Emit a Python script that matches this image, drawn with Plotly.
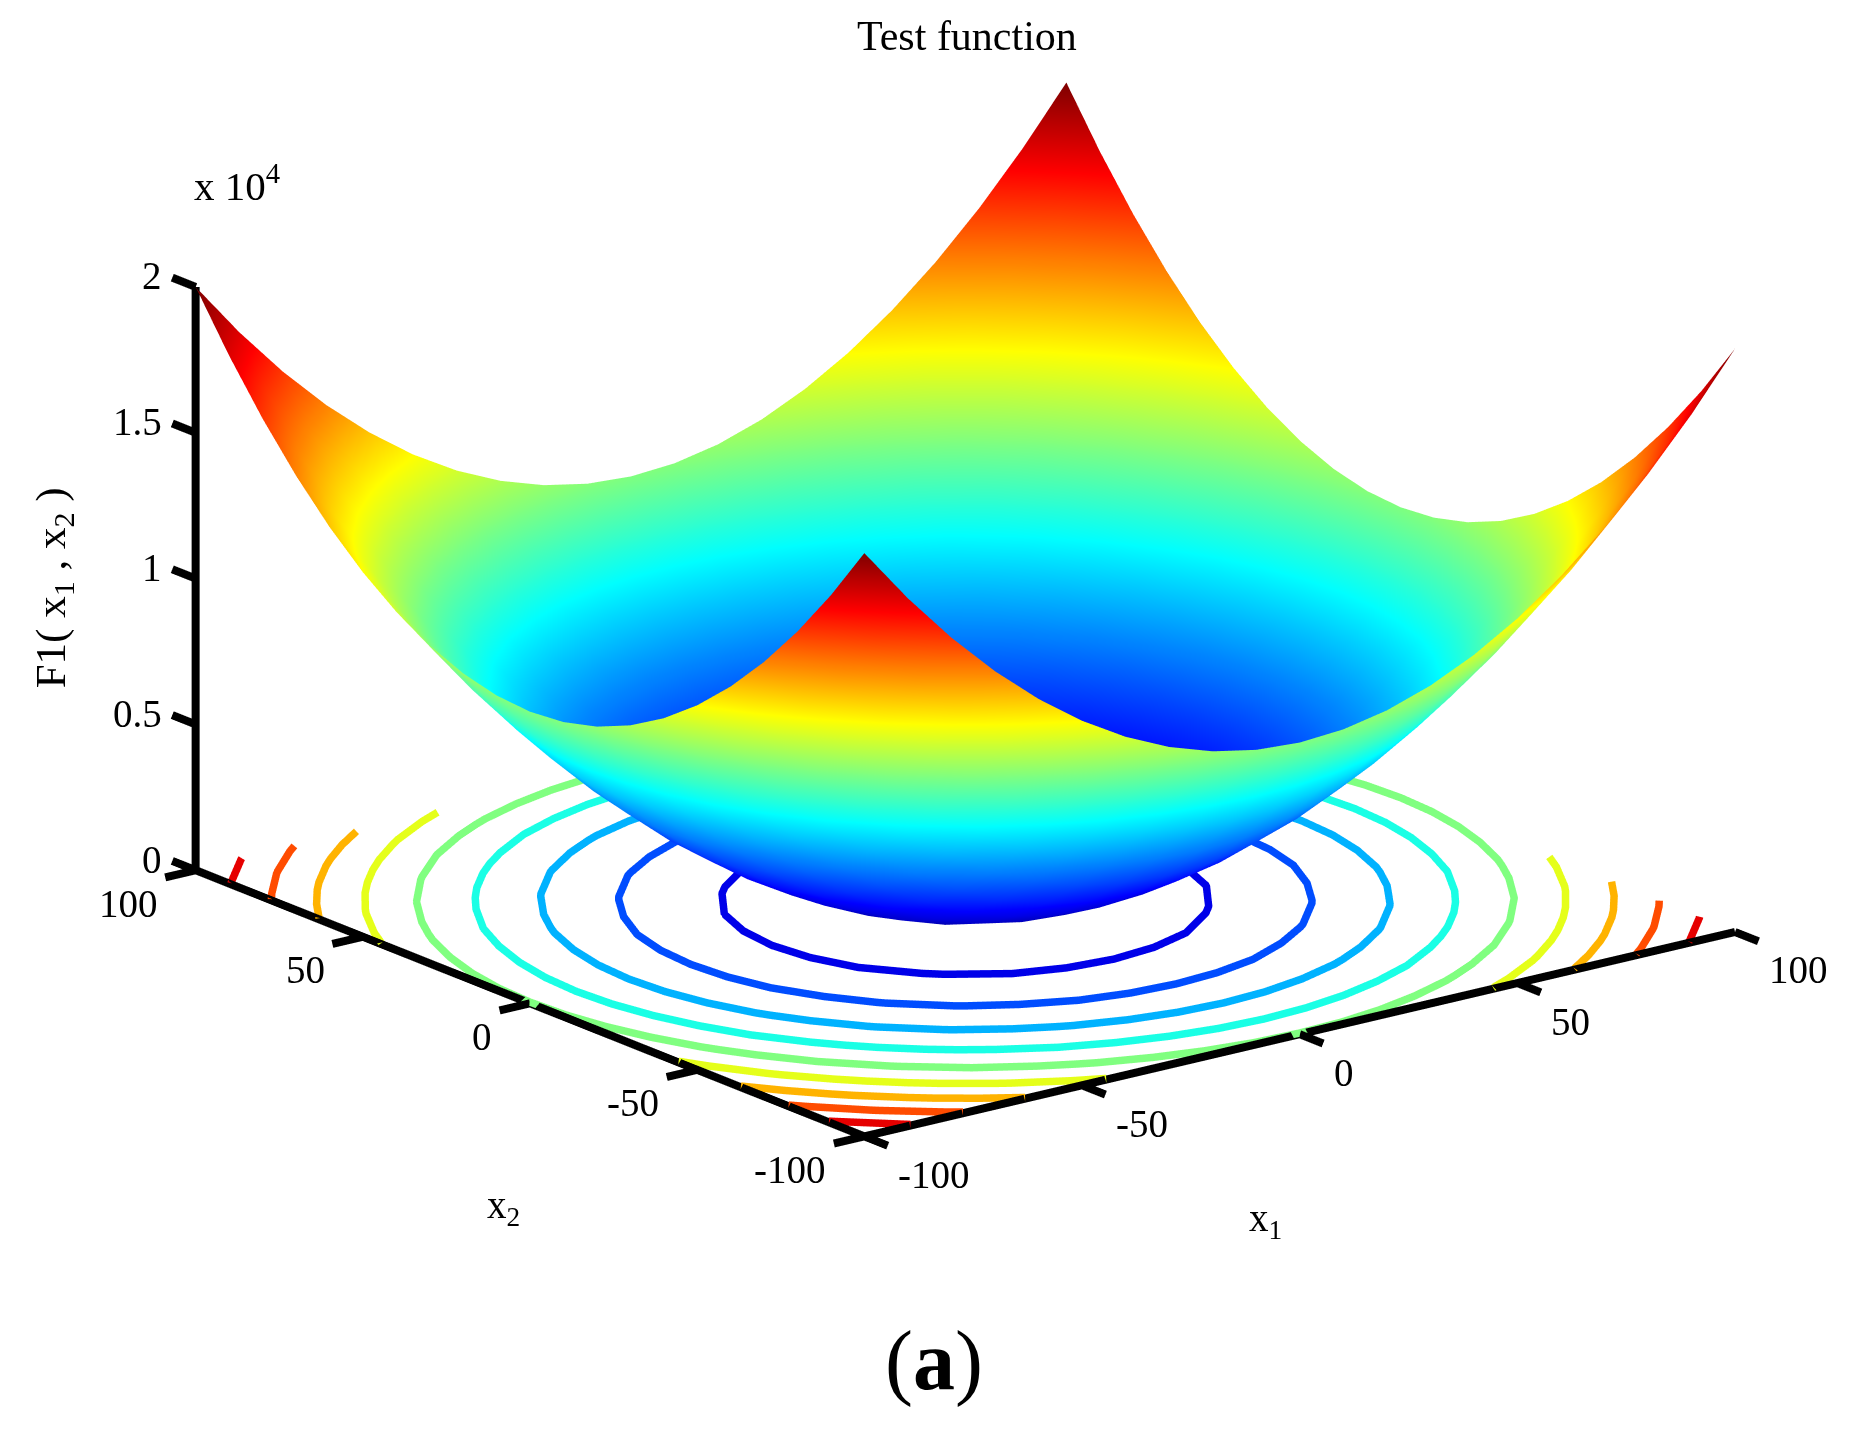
import plotly.graph_objects as go

x1_values = [-100,-90,-80,-70,-60,-50,-40,-30,-20,-10,0,10,20,30,40,50,60,70,80,90,100]
x2_values = [-100,-90,-80,-70,-60,-50,-40,-30,-20,-10,0,10,20,30,40,50,60,70,80,90,100]
f1_values = [
 [20000,18100,16400,14900,13600,12500,11600,10900,10400,10100,10000,10100,10400,10900,11600,12500,13600,14900,16400,18100,20000],
 [18100,16200,14500,13000,11700,10600,9700,9000,8500,8200,8100,8200,8500,9000,9700,10600,11700,13000,14500,16200,18100],
 [16400,14500,12800,11300,10000,8900,8000,7300,6800,6500,6400,6500,6800,7300,8000,8900,10000,11300,12800,14500,16400],
 [14900,13000,11300,9800,8500,7400,6500,5800,5300,5000,4900,5000,5300,5800,6500,7400,8500,9800,11300,13000,14900],
 [13600,11700,10000,8500,7200,6100,5200,4500,4000,3700,3600,3700,4000,4500,5200,6100,7200,8500,10000,11700,13600],
 [12500,10600,8900,7400,6100,5000,4100,3400,2900,2600,2500,2600,2900,3400,4100,5000,6100,7400,8900,10600,12500],
 [11600,9700,8000,6500,5200,4100,3200,2500,2000,1700,1600,1700,2000,2500,3200,4100,5200,6500,8000,9700,11600],
 [10900,9000,7300,5800,4500,3400,2500,1800,1300,1000,900,1000,1300,1800,2500,3400,4500,5800,7300,9000,10900],
 [10400,8500,6800,5300,4000,2900,2000,1300,800,500,400,500,800,1300,2000,2900,4000,5300,6800,8500,10400],
 [10100,8200,6500,5000,3700,2600,1700,1000,500,200,100,200,500,1000,1700,2600,3700,5000,6500,8200,10100],
 [10000,8100,6400,4900,3600,2500,1600,900,400,100,0,100,400,900,1600,2500,3600,4900,6400,8100,10000],
 [10100,8200,6500,5000,3700,2600,1700,1000,500,200,100,200,500,1000,1700,2600,3700,5000,6500,8200,10100],
 [10400,8500,6800,5300,4000,2900,2000,1300,800,500,400,500,800,1300,2000,2900,4000,5300,6800,8500,10400],
 [10900,9000,7300,5800,4500,3400,2500,1800,1300,1000,900,1000,1300,1800,2500,3400,4500,5800,7300,9000,10900],
 [11600,9700,8000,6500,5200,4100,3200,2500,2000,1700,1600,1700,2000,2500,3200,4100,5200,6500,8000,9700,11600],
 [12500,10600,8900,7400,6100,5000,4100,3400,2900,2600,2500,2600,2900,3400,4100,5000,6100,7400,8900,10600,12500],
 [13600,11700,10000,8500,7200,6100,5200,4500,4000,3700,3600,3700,4000,4500,5200,6100,7200,8500,10000,11700,13600],
 [14900,13000,11300,9800,8500,7400,6500,5800,5300,5000,4900,5000,5300,5800,6500,7400,8500,9800,11300,13000,14900],
 [16400,14500,12800,11300,10000,8900,8000,7300,6800,6500,6400,6500,6800,7300,8000,8900,10000,11300,12800,14500,16400],
 [18100,16200,14500,13000,11700,10600,9700,9000,8500,8200,8100,8200,8500,9000,9700,10600,11700,13000,14500,16200,18100],
 [20000,18100,16400,14900,13600,12500,11600,10900,10400,10100,10000,10100,10400,10900,11600,12500,13600,14900,16400,18100,20000],
]
contour_levels = [2000,4000,6000,8000,10000,12000,14000,16000,18000]
xy_ticks = [-100,-50,0,50,100]
xy_tick_labels = ["-100","-50","0","50","100"]
z_ticks = [0,5000,10000,15000,20000]
z_tick_labels = ["0","0.5","1","1.5","2"]
jet_stops = [(0,(0,0,144)),(0.125,(0,0,255)),(0.375,(0,255,255)),(0.625,(255,255,0)),(0.875,(255,0,0)),(1,(128,0,0))]
jet = [[t, "rgb(%d,%d,%d)" % c] for t, c in jet_stops]

FONT = "Liberation Serif"
TICK_SIZE = 39
XMIN, XMAX, ZMIN, ZMAX = -100, 100, 0, 20000
TICK_XY = 7
PAD = 8
SCALE = 1.509
CONTOUR_LIFT = 40


def jet_color(t):
    for (t0, c0), (t1, c1) in zip(jet_stops, jet_stops[1:]):
        if t <= t1:
            f = (t - t0) / (t1 - t0)
            return "rgb(%d,%d,%d)" % tuple(round(a + f * (b - a)) for a, b in zip(c0, c1))
    return jet[-1][1]


def contour_segments(level):
    """Marching squares over f1_values; rows follow x2, columns follow x1."""
    segs = []
    for j in range(len(x2_values) - 1):
        for i in range(len(x1_values) - 1):
            corners = [(i, j), (i + 1, j), (i + 1, j + 1), (i, j + 1)]
            pts = []
            for k in range(4):
                (a, b), (c, d) = corners[k], corners[(k + 1) % 4]
                va, vb = f1_values[b][a], f1_values[d][c]
                if (va < level) != (vb < level):
                    f = (level - va) / (vb - va)
                    pts.append((round(x1_values[a] + f * (x1_values[c] - x1_values[a]), 6),
                                round(x2_values[b] + f * (x2_values[d] - x2_values[b]), 6)))
            if len(pts) == 2:
                segs.append((pts[0], pts[1]))
            elif len(pts) == 4:
                segs.append((pts[0], pts[1]))
                segs.append((pts[2], pts[3]))
    return segs


def chain(segs):
    segs = list(segs)
    lines = []
    while segs:
        a, b = segs.pop()
        line = [a, b]
        grown = True
        while grown:
            grown = False
            for s in segs:
                if s[0] == line[-1]:
                    line.append(s[1])
                elif s[1] == line[-1]:
                    line.append(s[0])
                elif s[0] == line[0]:
                    line.insert(0, s[1])
                elif s[1] == line[0]:
                    line.insert(0, s[0])
                else:
                    continue
                segs.remove(s)
                grown = True
                break
        lines.append(line)
    return lines


fig = go.Figure()


def add_line(xs, ys, zs, color, width):
    fig.add_trace(go.Scatter3d(x=xs, y=ys, z=zs, mode="lines", line=dict(color=color, width=width),
                               hoverinfo="skip", showlegend=False))


# projected contours
for level in contour_levels:
    xs, ys = [], []
    for line in chain(contour_segments(level)):
        xs += [p[0] for p in line] + [None]
        ys += [p[1] for p in line] + [None]
    add_line(xs, ys, [None if v is None else ZMIN + CONTOUR_LIFT for v in xs], jet_color(level / ZMAX), 15)

# axes and ticks
ax_x = [XMIN, XMAX, None, XMIN, XMIN, None, XMIN, XMIN]
ax_y = [XMIN, XMIN, None, XMIN, XMAX, None, XMAX, XMAX]
ax_z = [ZMIN, ZMIN, None, ZMIN, ZMIN, None, ZMIN, ZMAX]
for v in xy_ticks:
    ax_x += [None, v, v, None, XMIN, XMIN - TICK_XY]
    ax_y += [None, XMIN, XMIN - TICK_XY, None, v, v]
    ax_z += [None, ZMIN, ZMIN, None, ZMIN, ZMIN]
for v in z_ticks:
    ax_x += [None, XMIN, XMIN]
    ax_y += [None, XMAX, XMAX + TICK_XY]
    ax_z += [None, v, v]
add_line(ax_x, ax_y, ax_z, "black", 16)

fig.add_trace(go.Surface(
    x=x1_values, y=x2_values, z=f1_values, colorscale=jet, cmin=ZMIN, cmax=ZMAX, showscale=False,
    lighting=dict(ambient=1, diffuse=0, specular=0, roughness=1, fresnel=0), hoverinfo="skip",
))

scene_notes = []
for v, t in zip(xy_ticks, xy_tick_labels):
    scene_notes.append(dict(x=v, y=XMIN, z=ZMIN, text=t, xanchor="left", yanchor="middle", xshift=32, yshift=-38))
    scene_notes.append(dict(x=XMIN, y=v, z=ZMIN, text=t, xanchor="right", yanchor="middle", xshift=-36, yshift=-33))
for v, t in zip(z_ticks, z_tick_labels):
    scene_notes.append(dict(x=XMIN, y=XMAX, z=v, text=t, xanchor="right", yanchor="middle", xshift=-32, yshift=11))
scene_notes.append(dict(x=0, y=XMIN, z=ZMIN, text="x<sub>1</sub>", xanchor="center", yanchor="middle", xshift=-34, yshift=-186))
scene_notes.append(dict(x=XMIN, y=0, z=ZMIN, text="x<sub>2</sub>", xanchor="center", yanchor="middle", xshift=-27, yshift=-204))
scene_notes.append(dict(x=XMIN, y=XMAX, z=10000, text="F1( x<sub>1</sub> , x<sub>2</sub> )", textangle=-90,
                        xanchor="center", yanchor="middle", xshift=-142, yshift=-9))
for n in scene_notes:
    n.update(showarrow=False, font=dict(family=FONT, size=TICK_SIZE, color="black"))
scene_notes[-1]["font"] = dict(family=FONT, size=43, color="black")

K = 2.0
SHIFT = (-0.0335, 0.0260, -0.182)
base = (-0.609 * K, -0.793 * K, 0.321 * K)
hidden = dict(visible=False, showspikes=False)
fig.update_layout(
    width=1853, height=1455, paper_bgcolor="white", margin=dict(l=0, r=0, t=0, b=0),
    font=dict(family=FONT, color="black"), showlegend=False,
    scene=dict(
        domain=dict(x=[0, 1], y=[0, 1]),
        aspectmode="manual",
        aspectratio=dict(x=SCALE * (XMAX - XMIN + 2 * PAD) / 200, y=SCALE * (XMAX - XMIN + 2 * PAD) / 200, z=SCALE * 0.558),
        camera=dict(projection=dict(type="orthographic"),
                    eye=dict(x=base[0] + SHIFT[0], y=base[1] + SHIFT[1], z=base[2] + SHIFT[2]),
                    center=dict(x=SHIFT[0], y=SHIFT[1], z=SHIFT[2]), up=dict(x=0, y=0, z=1)),
        xaxis=dict(range=[XMIN - PAD, XMAX + PAD], **hidden),
        yaxis=dict(range=[XMIN - PAD, XMAX + PAD], **hidden),
        zaxis=dict(range=[ZMIN, ZMAX], **hidden),
        annotations=scene_notes,
    ),
    annotations=[
        dict(text="Test function", x=0.5175, y=0.9805, xref="paper", yref="paper", xanchor="center", yanchor="middle", showarrow=False, font=dict(size=42)),
        dict(text="x 10<sup>4</sup>", x=0.1237, y=0.880, xref="paper", yref="paper", xanchor="center", yanchor="middle", showarrow=False, font=dict(size=41)),
        dict(text="(<b>a</b>)", x=0.4998, y=0.0701, xref="paper", yref="paper", xanchor="center", yanchor="middle", showarrow=False, font=dict(size=84)),
    ],
)
fig.write_html("out.html")
